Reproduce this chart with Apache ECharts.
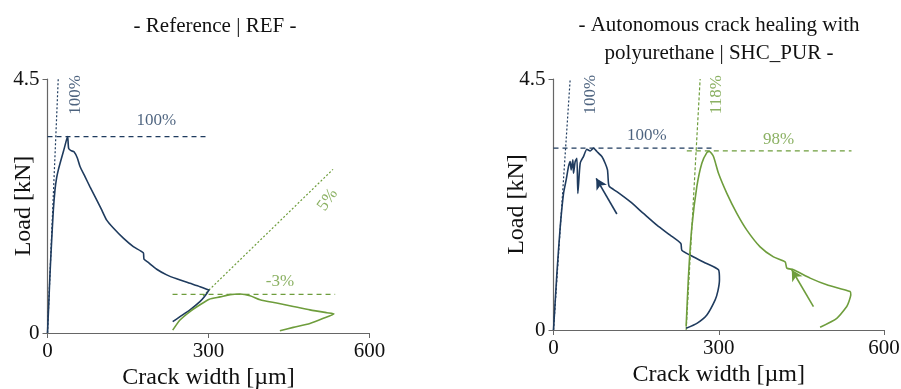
<!DOCTYPE html>
<html>
<head>
<meta charset="utf-8">
<script src="https://cdn.jsdelivr.net/npm/echarts@6/dist/echarts.min.js"></script>
<style>
  html, body { margin: 0; padding: 0; background: #fff; }
  #chart { width: 901px; height: 389px; }
</style>
</head>
<body>
<div id="chart"></div>
<script>
// axis ticks
const xTicks = [0, 300, 600]
const yTicks = [0, 4.5]

// --- REF (left) ---
const refFirst = [[0, 0], [2.5, 0.55], [4.7, 1.06], [7.8, 1.65], [10.9, 2.18], [14, 2.54], [17, 2.75], [20.2, 2.89], [25, 3.06],
  [29.5, 3.21], [35.7, 3.43], [37.6, 3.48], [39.4, 3.27], [43.8, 3.23], [49.4, 3.21], [55.6, 3.1], [60.6, 2.95], [69.9, 2.77],
  [79.2, 2.59], [91.6, 2.36], [101, 2.18], [110.3, 2.0], [122.7, 1.86], [141.3, 1.68], [159.9, 1.53], [178.5, 1.42],
  [179.8, 1.31], [187.8, 1.25], [203.5, 1.13], [222.1, 1.03], [240.7, 0.96], [265.5, 0.88], [284.2, 0.82], [300.9, 0.76],
  [301.5, 0.75], [293, 0.65], [284, 0.555], [265.5, 0.41], [246.9, 0.29], [233.3, 0.2]]
const refSecond = [[233.3, 0.05], [246.9, 0.23], [265.5, 0.38], [284.2, 0.5], [301.5, 0.6], [321.6, 0.64], [340.2, 0.68],
  [358.8, 0.69], [377.4, 0.66], [396, 0.59], [427, 0.53], [458, 0.47], [489, 0.41], [520.2, 0.36], [533.8, 0.34],
  [514, 0.26], [489, 0.17], [458, 0.1], [433, 0.04]]
const refStiff1 = [[0, 0], [20, 4.5]]
const refPeak1 = [[0, 3.48], [297, 3.48]]
const refStiff2 = [[290, 0.66], [532, 2.9]]
const refPeak2 = [[233, 0.686], [536, 0.686]]
const refLabelsBlue = [[203, 3.77, '100%', 0], [52, 4.22, '100%', 90]]
const refLabelsGreen = [[522, 2.36, '5%', 55], [433, 0.92, '-3%', 0]]

// --- SHC_PUR (right) ---
const purFirst = [[0, 0], [6.2, 1.02], [12.2, 1.85], [18.2, 2.45], [23, 2.69], [27.2, 2.93], [30.3, 3.02], [32.1, 2.87],
  [35.2, 3.05], [36.3, 2.81], [39.4, 3.02], [42.5, 3.08], [44.2, 2.45], [48.5, 2.99], [54.4, 3.11], [60.6, 3.24],
  [66.6, 3.21], [72.6, 3.26], [78.8, 3.2], [87.8, 3.11], [93.8, 2.99], [98, 2.87], [99.8, 2.63], [101.6, 2.57],
  [115, 2.48], [139.2, 2.3], [163.3, 2.09], [187.7, 1.88], [211.8, 1.7], [231.2, 1.55], [233, 1.43], [248.1, 1.34],
  [272.2, 1.22], [299.5, 1.08], [301.3, 0.9], [298.5, 0.7], [293.5, 0.54], [278.4, 0.27], [260.3, 0.12], [240.8, 0.03]]
const purSecond = [[240.8, 0.06], [245, 0.96], [251.2, 1.85], [260.2, 2.57], [269.3, 2.99], [278.4, 3.18], [283.1, 3.2],
  [290.4, 3.11], [299.5, 2.81], [314.7, 2.45], [332.8, 2.09], [351, 1.79], [375.1, 1.49], [399.3, 1.31], [420.5, 1.22],
  [423.6, 1.11], [435.6, 1.08], [465.9, 0.93], [496.2, 0.81], [538.5, 0.69], [539.7, 0.63], [536, 0.5], [532.4, 0.42],
  [514.3, 0.21], [484, 0.05]]
const purStiff1 = [[0, 0], [30.3, 4.5]]
const purPeak1 = [[0, 3.26], [290, 3.26]]
const purStiff2 = [[240.8, 0], [266.2, 4.5]]
const purPeak2 = [[242, 3.21], [541, 3.21]]
const purArrowBlue = [[115, 2.08], [77.5, 2.72]]
const purArrowGreen = [[471.9, 0.42], [432.6, 1.08]]
const purLabelsBlue = [[169.5, 3.49, '100%', 0], [66.6, 4.22, '100%', 90]]
const purLabelsGreen = [[296.5, 4.22, '118%', 90], [408.4, 3.42, '98%', 0]]

const BLUE = '#1f3b5e'
const GREEN = '#6e9d3c'
const FONT = 'Liberation Serif'

function xAxis(gridIndex) {
  return {
    gridIndex: gridIndex,
    type: 'value',
    min: xTicks[0],
    max: xTicks[xTicks.length - 1],
    interval: 300,
    name: 'Crack width [µm]',
    nameLocation: 'middle',
    nameGap: 33,
    nameMoveOverlap: false,
    nameTextStyle: { fontFamily: FONT, fontSize: 24, color: '#111' },
    axisLine: { lineStyle: { color: '#666', width: 1.2 } },
    axisTick: { lineStyle: { color: '#666' }, length: 5 },
    axisLabel: { fontFamily: FONT, fontSize: 21, color: '#111', margin: 8 },
    splitLine: { show: false }
  }
}

function yAxis(gridIndex, gap) {
  return {
    gridIndex: gridIndex,
    type: 'value',
    min: yTicks[0],
    max: yTicks[1],
    interval: 4.5,
    name: 'Load [kN]',
    nameLocation: 'middle',
    nameGap: gap,
    nameMoveOverlap: false,
    nameTextStyle: { fontFamily: FONT, fontSize: 24, color: '#111' },
    axisLine: { show: true, lineStyle: { color: '#666', width: 1.2 } },
    axisTick: { show: true, lineStyle: { color: '#666' }, length: 5 },
    axisLabel: { fontFamily: FONT, fontSize: 21, color: '#111', margin: 8 },
    splitLine: { show: false }
  }
}

function curve(idx, data, color) {
  return {
    type: 'line', xAxisIndex: idx, yAxisIndex: idx, data: data,
    showSymbol: false, symbol: 'none', silent: true, smooth: 0.2,
    lineStyle: { color: color, width: 1.6 }
  }
}

function dashed(idx, data, color, dash) {
  return {
    type: 'line', xAxisIndex: idx, yAxisIndex: idx, data: data,
    showSymbol: false, symbol: 'none', silent: true,
    lineStyle: { color: color, width: 1.2, type: dash }
  }
}

function labels(idx, items, color) {
  return {
    type: 'scatter', xAxisIndex: idx, yAxisIndex: idx, symbolSize: 0, silent: true,
    data: items.map(d => ({
      value: [d[0], d[1]],
      label: {
        show: true, formatter: d[2], rotate: d[3], position: 'inside',
        fontFamily: FONT, fontSize: 17, color: color
      }
    }))
  }
}

function arrow(idx, pts, color) {
  return {
    type: 'line', xAxisIndex: idx, yAxisIndex: idx, data: [], silent: true,
    markLine: {
      silent: true, symbol: ['none', 'arrow'], symbolSize: [9, 11],
      label: { show: false },
      lineStyle: { color: color, width: 1.6, type: 'solid' },
      data: [[{ coord: pts[0] }, { coord: pts[1] }]]
    }
  }
}

const chart = echarts.init(document.getElementById('chart'))
chart.setOption({
  animation: false,
  backgroundColor: '#fff',
  title: [
    { text: '- Reference | REF -', left: 210, top: 11, textAlign: 'center',
      textStyle: { fontFamily: FONT, fontSize: 21, fontWeight: 'normal', color: '#111' } },
    { text: '- Autonomous crack healing with\npolyurethane | SHC_PUR -', left: 714, top: 6, textAlign: 'center',
      textStyle: { fontFamily: FONT, fontSize: 21, fontWeight: 'normal', color: '#111', lineHeight: 28 } }
  ],
  grid: [
    { left: 47.5, right: 531.5, top: 79, bottom: 56, outerBoundsMode: 'none' },
    { left: 553.5, right: 17, top: 79, bottom: 59, outerBoundsMode: 'none' }
  ],
  xAxis: [xAxis(0), xAxis(1)],
  yAxis: [yAxis(0, 12), yAxis(1, 25)],
  series: [
    dashed(0, refStiff1, BLUE, [2, 2]),
    dashed(0, refPeak1, BLUE, [5, 4]),
    dashed(0, refStiff2, GREEN, [2, 2]),
    dashed(0, refPeak2, GREEN, [5, 4]),
    curve(0, refFirst, BLUE),
    curve(0, refSecond, GREEN),
    labels(0, refLabelsBlue, BLUE),
    labels(0, refLabelsGreen, GREEN),

    dashed(1, purStiff1, BLUE, [2, 2]),
    dashed(1, purPeak1, BLUE, [5, 4]),
    dashed(1, purStiff2, GREEN, [3, 2]),
    dashed(1, purPeak2, GREEN, [5, 4]),
    curve(1, purFirst, BLUE),
    curve(1, purSecond, GREEN),
    arrow(1, purArrowBlue, BLUE),
    arrow(1, purArrowGreen, GREEN),
    labels(1, purLabelsBlue, BLUE),
    labels(1, purLabelsGreen, GREEN)
  ]
})
</script>
</body>
</html>
